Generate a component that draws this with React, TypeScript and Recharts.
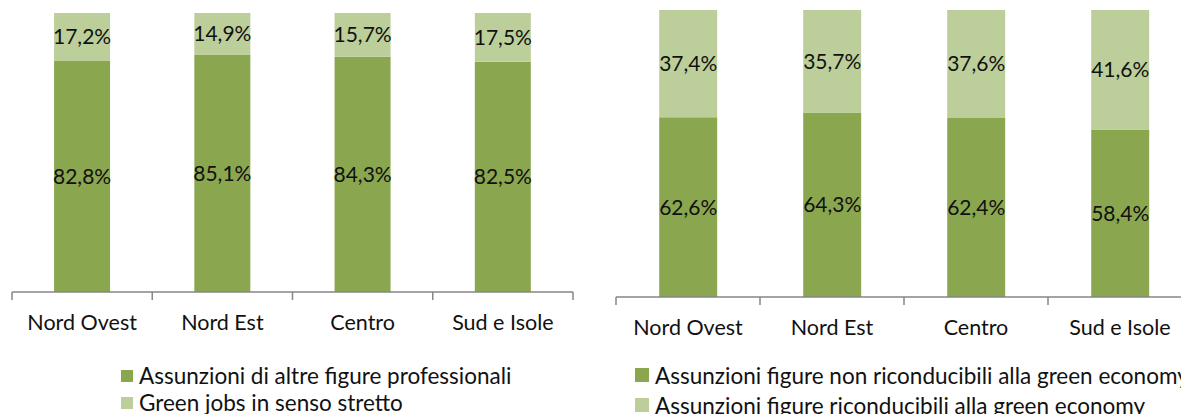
import React from 'react';
import { BarChart, Bar, XAxis, YAxis, LabelList, Legend } from 'recharts';

const regioni = ['Nord Ovest', 'Nord Est', 'Centro', 'Sud e Isole'];
const altreFigure = [82.8, 85.1, 84.3, 82.5];
const greenJobs = [17.2, 14.9, 15.7, 17.5];
const nonGreen = [62.6, 64.3, 62.4, 58.4];
const green = [37.4, 35.7, 37.6, 41.6];

const DARK = '#8aa64f';
const LIGHT = '#bccf9a';
const AXIS = '#868686';
const FONT = 'Lato, "Noto Sans", sans-serif';

const leftData = regioni.map((r, i) => ({ r, a: altreFigure[i], b: greenJobs[i] }));
const rightData = regioni.map((r, i) => ({ r, a: nonGreen[i], b: green[i] }));

const pct = (v: any) => Number(v).toFixed(1).replace('.', ',') + '%';

// ticks a cavallo delle categorie, come in Excel
function makeTick(plotW: number, n: number) {
  const cw = plotW / n;
  return (props: any) => {
    const { x, y, payload, index } = props;
    return (
      <g>
        <line x1={x - cw / 2} x2={x - cw / 2} y1={y} y2={y + 8} stroke={AXIS} strokeWidth={1.5} />
        {index === n - 1 && (
          <line x1={x + cw / 2} x2={x + cw / 2} y1={y} y2={y + 8} stroke={AXIS} strokeWidth={1.5} />
        )}
        <text x={x} y={y + 38} textAnchor="middle" fill="#111" fontSize={21.5} fontFamily={FONT}>
          {payload.value}
        </text>
      </g>
    );
  };
}

function legendContent(labels: string[], rowH: number, sq: number) {
  return () => (
    <div style={{ fontFamily: FONT, fontSize: 22.5, color: '#111', whiteSpace: 'nowrap' }}>
      {labels.map((l, i) => (
        <div key={l} style={{ display: 'flex', alignItems: 'center', height: rowH }}>
          <span style={{ width: sq, height: sq, background: i === 0 ? DARK : LIGHT, marginRight: 6, display: 'inline-block', flex: 'none' }} />
          {l}
        </div>
      ))}
    </div>
  );
}

function Stack({ data, width, margin, legend, legendPos, rowH, sq }: any) {
  const plotW = width - margin.left - margin.right;
  return (
    <BarChart width={width} height={414} data={data} margin={margin} barCategoryGap="30%">
      <XAxis
        dataKey="r"
        height={40}
        tickSize={0}
        tickMargin={0}
        tickLine={false}
        axisLine={{ stroke: AXIS, strokeWidth: 1.5 }}
        tick={makeTick(plotW, data.length)}
        interval={0}
      />
      <YAxis hide domain={[0, 100]} />
      <Legend
        layout="vertical"
        verticalAlign="middle"
        align="center"
        wrapperStyle={{ left: legendPos[0], top: legendPos[1], width: 'auto' }}
        content={legendContent(legend, rowH, sq)}
      />
      <Bar dataKey="a" stackId="s" fill={DARK} name={legend[0]} isAnimationActive={false}>
        <LabelList dataKey="a" position="center" formatter={pct} fill="#111" fontSize={21} fontFamily={FONT} />
      </Bar>
      <Bar dataKey="b" stackId="s" fill={LIGHT} name={legend[1]} isAnimationActive={false}>
        <LabelList dataKey="b" position="center" formatter={pct} fill="#111" fontSize={21} fontFamily={FONT} />
      </Bar>
    </BarChart>
  );
}

export default function App() {
  return (
    <div style={{ position: 'absolute', left: 0, top: 0, width: 1181, height: 414, overflow: 'hidden', background: '#fff' }}>
      <div style={{ position: 'absolute', left: 0, top: 0 }}>
        <Stack
          data={leftData}
          width={590}
          margin={{ top: 13, left: 12, right: 17, bottom: 82 }}
          legend={['Assunzioni di altre figure professionali', 'Green jobs in senso stretto']}
          legendPos={[121, 362]}
          rowH={27}
          sq={12}
        />
      </div>
      <div style={{ position: 'absolute', left: 590, top: 0 }}>
        <Stack
          data={rightData}
          width={620}
          margin={{ top: 10, left: 26, right: 18, bottom: 77 }}
          legend={['Assunzioni figure non riconducibili alla green economy', 'Assunzioni figure riconducibili alla green economy']}
          legendPos={[45, 360]}
          rowH={30}
          sq={14}
        />
      </div>
    </div>
  );
}
